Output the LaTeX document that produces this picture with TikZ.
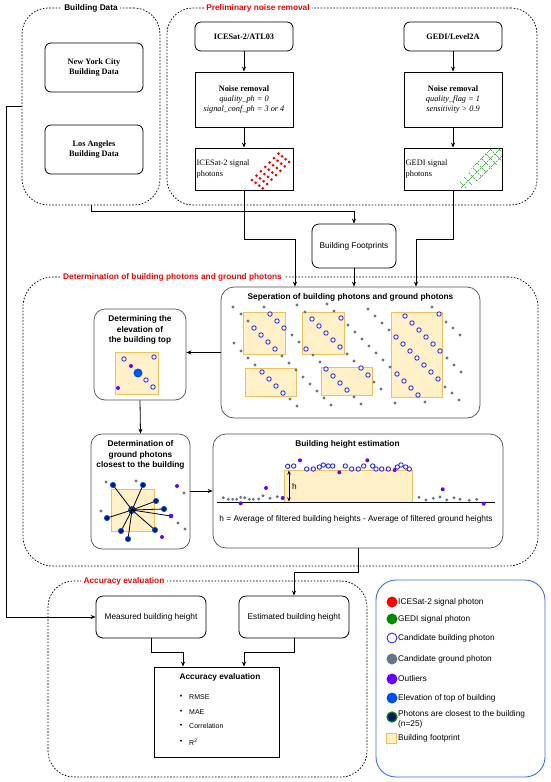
\documentclass[tikz,border=0pt]{standalone}
\usepackage{fontspec}
\setmainfont{Liberation Serif}
\setsansfont{Liberation Sans}
\usetikzlibrary{arrows.meta,calc}
\definecolor{fpfill}{HTML}{FFF0C8}
\definecolor{fpdraw}{HTML}{F0C05A}
\definecolor{gnd}{HTML}{647687}
\definecolor{outl}{HTML}{6A00FF}
\definecolor{elev}{HTML}{0050EF}
\definecolor{gedi}{HTML}{008A00}
\definecolor{hatch}{HTML}{1FA51F}
\definecolor{bld}{HTML}{2B2BE6}
\definecolor{navy}{HTML}{0B1570}
\definecolor{legblue}{HTML}{3D6BF5}
\definecolor{boxgrey}{HTML}{505050}
\definecolor{ttred}{HTML}{FF0000}
\newcommand{\fsz}{\fontsize{8.3}{10}\selectfont}
\tikzset{
  grp/.style={draw, line width=0.7pt, dash pattern=on 1.6pt off 1.6pt, rounded corners=26pt, inner sep=0pt},
  gtitle/.style={fill=white, font=\sffamily\bfseries\fsz, inner sep=2.5pt},
  rtitle/.style={gtitle, text=ttred},
  sqbox/.style={draw, line width=0.8pt, inner sep=1pt, align=center, font=\rmfamily\fsz},
  rndbox/.style={sqbox, rounded corners=6pt},
  sfbox/.style={draw, line width=0.8pt, rounded corners=7pt, inner sep=1pt, align=center, font=\sffamily\fsz},
  gbox/.style={draw=boxgrey, line width=0.7pt, rounded corners=13pt, inner sep=0pt},
  btitle/.style={font=\sffamily\bfseries\fontsize{8.3}{10.5}\selectfont, align=center, inner sep=0pt},
  plain/.style={font=\sffamily\fsz, inner sep=0pt},
  arr/.style={-{Stealth[length=5pt,width=4pt]}, line width=0.8pt},
  fp/.style={fill=fpfill, draw=fpdraw, line width=0.8pt},
  gdot/.style={fill=gnd},
  odot/.style={draw=bld, fill=white, line width=0.9pt},
  pdot/.style={fill=outl},
  ndot/.style={fill=navy, draw=elev, line width=0.8pt},
}
\begin{document}
\begin{tikzpicture}[x=1pt,y=-1pt]
\useasboundingbox (0,0) rectangle (550,782);
\fill[white] (0,0) rectangle (550,782);

% ---------- groups ----------
\node[grp, minimum width=138pt, minimum height=197pt] (gBD) at (91,106.5) {};
\node[grp, minimum width=370pt, minimum height=197pt] (gPN) at (352,106.5) {};
\node[grp, rounded corners=30pt, minimum width=515pt, minimum height=289pt] (gDet) at (280.5,421.5) {};
\node[grp, minimum width=319pt, minimum height=196pt] (gAcc) at (207.5,679) {};
\node[gtitle] (tBD) at (91,8) {Building Data};
\node[rtitle] (tPN) at (258,8) {Preliminary noise removal};
\node[rtitle] (tDet) at (172.5,277) {Determination of building photons and ground photons};
\node[rtitle] (tAcc) at (124,581) {Accuracy evaluation};

% ---------- building data ----------
\node[rndbox, minimum width=98pt, minimum height=49pt] (ny) at (94,67.5) {\textbf{New York City}\\\textbf{Building Data}};
\node[rndbox, minimum width=98pt, minimum height=49pt] (la) at (94,149.5) {\textbf{Los Angeles}\\\textbf{Building Data}};

% ---------- noise removal ----------
\node[rndbox, minimum width=98pt, minimum height=29pt] (ice) at (244,36.5) {\textbf{ICESat-2/ATL03}};
\node[sqbox, minimum width=98pt, minimum height=55pt] (nr1) at (244,99.5) {\textbf{Noise removal}\\\textit{quality\_ph = 0}\\\textit{signal\_conf\_ph = 3 or 4}};
\node[sqbox, minimum width=98pt, minimum height=42pt] (isp) at (244,169) {};
\node[font=\rmfamily\fsz, align=left, anchor=west, inner sep=0pt] (ispt) at (196.5,169) {ICESat-2 signal\\photons};
\begin{scope}
\clip (195,148) rectangle (293,190);
\foreach \r in {0,1,2,3} \foreach \k in {0,...,6}
  \fill[ttred] ({252+3.6*\r+4.4*\k},{180+2.8*\r-4.4*\k}) circle (1.5pt);
\end{scope}

\node[rndbox, minimum width=98pt, minimum height=29pt] (gedi) at (453,36.5) {\textbf{GEDI/Level2A}};
\node[sqbox, minimum width=98pt, minimum height=55pt] (nr2) at (453,99.5) {\textbf{Noise removal}\\\textit{quality\_flag = 1}\\\textit{sensitivity > 0.9}};
\node[sqbox, minimum width=98pt, minimum height=42pt] (gsp) at (453,169) {};
\node[font=\rmfamily\fsz, align=left, anchor=west, inner sep=0pt] (gspt) at (405.5,169) {GEDI signal\\photons};
\begin{scope}
\clip (456,186) -- (466,190) -- (502,160) -- (502,148) -- (490,148) -- cycle;
\foreach \c in {400,409,...,505} {
  \draw[hatch, line width=0.45pt, dash pattern=on 2.4pt off 0.9pt] (\c,195) -- ++(55,-55);
  \draw[hatch, line width=0.45pt, dash pattern=on 2.4pt off 0.9pt] (\c,140) -- ++(55,55);
}
\end{scope}

\draw[arr] (ice.south) -- (nr1.north);
\draw[arr] (nr1.south) -- (isp.north);
\draw[arr] (gedi.south) -- (nr2.north);
\draw[arr] (nr2.south) -- (gsp.north);

% ---------- building footprints ----------
\node[sfbox, minimum width=84pt, minimum height=44pt] (bf) at (354,246) {Building Footprints};
\draw[arr] (gBD.south) -- ++(0,6) -| (bf.north);

% ---------- separation ----------
\node[gbox, minimum width=259pt, minimum height=131pt] (sep) at (350.5,352.5) {};
\node[btitle] (sept) at (350.5,297) {Seperation of building photons and ground photons};
\coordinate (j1) at (295,239);
\coordinate (j2) at (416,239);
\draw[arr] (isp.south) |- (j1) -- (j1 |- sep.north);
\draw[arr] (gsp.south) |- (j2) -- (j2 |- sep.north);
\draw[arr] (bf.south) -- (bf.south |- sep.north);

\fill[fp] (243,312) rectangle (285,354);
\fill[fp] (302,312) rectangle (344,354);
\fill[fp] (245,368) rectangle (296,396);
\fill[fp] (321,367) rectangle (372,395);
\fill[fp] (391,312) rectangle (442,397);
\draw[fp] (243,312) rectangle (285,354);
\draw[fp] (302,312) rectangle (344,354);
\draw[fp] (245,368) rectangle (296,396);
\draw[fp] (321,367) rectangle (372,395);
\draw[fp] (391,312) rectangle (442,397);
\foreach \x/\y in {233/307,241/314,248/321,234/343,241/351,248/358,255/365,264/307,292/335,299/342,282/356,289/363,296/370,303/377,310/384,317/391,324/398,331/405,290/399,297/406,297/305,305/312,327/304,334/311,348/325,355/332,362/339,369/346,376/353,383/360,390/367,313/355,320/362,347/354,354/361,374/382,381/389,354/397,361/404,368/309,375/316,382/323,389/330,395/403,432/307,446/322,453/328,460/335,447/358,454/365,461/372,445/387,452/393,459/400,425/402}
  \fill[gdot] (\x,\y) circle (1.6pt);
\foreach \x/\y in {270/314,277/321,284/328,254/328,261/335,268/342,275/349,312/319,319/326,326/333,333/340,340/347,341/318,306/349,262/372,269/379,276/386,283/393,326/369,333/376,340/383,347/390,361/368,368/375,405/316,412/323,419/330,426/337,433/344,440/351,439/314,396/337,403/344,410/351,417/358,424/365,431/372,438/379,397/374,404/381,411/388,418/395}
  \draw[odot] (\x,\y) circle (2.2pt);

% ---------- elevation of top ----------
\node[gbox, rounded corners=11pt, minimum width=92pt, minimum height=91pt] (elv) at (140,354.5) {};
\node[btitle] (elvt) at (140,330) {Determining the\\elevation of\\the building top};
\draw[arr] (sep.west) -- (sep.west -| elv.east);
\fill[fp] (115,352) rectangle (158,394);
\draw[fp] (115,352) rectangle (158,394);
\foreach \x/\y in {124/359,154/357,146/380,153/387}
  \draw[odot] (\x,\y) circle (2.2pt);
\foreach \x/\y in {131/366,118/388}
  \fill[pdot] (\x,\y) circle (2pt);
\fill[elev] (138,373) circle (4.5pt);

% ---------- ground photons closest ----------
\node[gbox, rounded corners=11pt, minimum width=99pt, minimum height=115pt] (gcb) at (140.5,491.5) {};
\node[btitle] (gcbt) at (140.5,455) {Determination of\\ground photons\\closest to the building};
\draw[arr] (elv.south) -- (gcb.north);
\fill[fp] (111,489) rectangle (154,531);
\draw[fp] (111,489) rectangle (154,531);
\foreach \x/\y in {106/482,136/481,101/511,184/493,178/523,185/529}
  \fill[gdot] (\x,\y) circle (1.6pt);
\foreach \x/\y in {177/486,162/537}
  \fill[pdot] (\x,\y) circle (2pt);
\fill[elev] (132,510) circle (4pt);
\foreach \x/\y in {113/485,143/485,156/501,164/509,171/516,155/530,128/539,121/531,107/518}
  \draw[line width=0.8pt] (132,510) -- (\x,\y);
\foreach \x/\y in {113/485,143/485,156/501,164/509,155/530,128/539,121/531,107/518}
  \draw[ndot] (\x,\y) circle (2.6pt);
\fill[outl] (171,516) circle (2.3pt);

% ---------- building height estimation ----------
\node[gbox, rounded corners=13pt, minimum width=290pt, minimum height=114pt] (bhe) at (358,491) {};
\node[btitle] (bhet) at (347.5,444) {Building height estimation};
\draw[arr] (gcb.east |- 0,491) -- (bhe.west |- 0,491);
\fill[fp] (284,470) rectangle (412,502);
\draw[fp] (284,470) rectangle (412,502);
\draw[line width=0.8pt] (217,502) -- (495,502);
\draw[{Stealth[length=4pt,width=3.5pt]}-{Stealth[length=4pt,width=3.5pt]}, line width=0.8pt] (289,470.5) -- (289,501.5);
\node[plain, anchor=west] (hlab) at (292,486) {h};
\foreach \x/\y in {223.3/497.7,228.3/499.3,232.7/499.3,236.7/499.3,240.7/497.3,244.7/497.7,249.3/499.3,253.3/499.3,258.7/499,263/495.7,270/498.3,277.3/496.7,419/497.3,426/500,433.3/498.3,440/497,446.7/500,454/497.7,460/499.3,469.3/500.3,476.7/499.3}
  \fill[gdot] (\x,\y) circle (1.6pt);
\foreach \x/\y in {287.7/466.3,293.7/466,306.7/469,313.3/469,319.3/467,323.3/465,328.3/466,332.7/466,345.3/466,351.7/469,358.3/469,363.7/466,372.7/466,376/469,381.7/469,388.3/469,397.3/467,401/465,405.7/467,409.3/469}
  \draw[odot] (\x,\y) circle (2.2pt);
\foreach \x/\y in {300/460.3,339.3/472.3,367.3/460.3,394.7/470,266/488,282.7/498,240.7/503.3,442.7/489.3,483.7/503.7}
  \fill[pdot] (\x,\y) circle (2pt);
\node[plain] (hform) at (356,519) {h = Average of filtered building heights - Average of filtered ground heights};

% ---------- accuracy ----------
\node[sfbox, minimum width=110pt, minimum height=42pt] (mbh) at (151,617) {Measured building height};
\node[sfbox, minimum width=110pt, minimum height=42pt] (ebh) at (294,617) {Estimated building height};
\node[draw, line width=0.8pt, minimum width=125pt, minimum height=90pt, inner sep=0pt] (acc) at (216.5,712) {};
\node[btitle] (acct) at (220,677) {Accuracy evaluation};
\foreach \t/\y [count=\i] in {RMSE/697, MAE/712, Correlation/726, R\textsuperscript{2}/742} {
  \node[font=\sffamily\fontsize{7}{8}\selectfont, inner sep=0pt] (b\i) at (181,\y) {•};
  \node[font=\sffamily\fontsize{7}{8}\selectfont, inner sep=0pt, anchor=west] (it\i) at (189,\y) {\t};
}
\draw[arr] (bhe.south) -- ++(0,24) -| (ebh.north);
\draw[arr] (gBD.west) -- ++(-15,0) |- (mbh.west);
\draw[arr] (mbh.south) -- ++(0,14) -| ($(acc.north)+(-33.5,0)$);
\draw[arr] (ebh.south) -- ++(0,14) -| ($(acc.north)+(27.5,0)$);

% ---------- legend ----------
\node[draw=legblue, line width=0.9pt, rounded corners=20pt, minimum width=169pt, minimum height=197pt] (leg) at (460.5,678.5) {};
\fill[ttred] (392,602) circle (5.5pt);
\fill[gedi] (392,619) circle (5.5pt);
\draw[draw=bld, fill=white, line width=0.9pt] (392,638) circle (5pt);
\fill[gnd] (392,659) circle (5.5pt);
\fill[outl] (392,679) circle (5.5pt);
\fill[elev] (392,698) circle (5.5pt);
\draw[fill=navy, draw=gedi, line width=1.2pt] (392,717) circle (5pt);
\fill[fp] (386,733) rectangle (396,743);
\draw[fp] (386,733) rectangle (396,743);
\node[plain, anchor=west] (l1) at (398,602) {ICESat-2 signal photon};
\node[plain, anchor=west] (l2) at (398,619) {GEDI signal photon};
\node[plain, anchor=west] (l3) at (398,638) {Candidate building photon};
\node[plain, anchor=west] (l4) at (398,659) {Candidate ground photon};
\node[plain, anchor=west] (l5) at (398,679) {Outliers};
\node[plain, anchor=west] (l6) at (398,698) {Elevation of top of building};
\node[plain, anchor=west, align=left] (l7) at (398,719) {Photons are closest to the building\\(n=25)};
\node[plain, anchor=west] (l8) at (398,738) {Building footprint};
\end{tikzpicture}
\end{document}
